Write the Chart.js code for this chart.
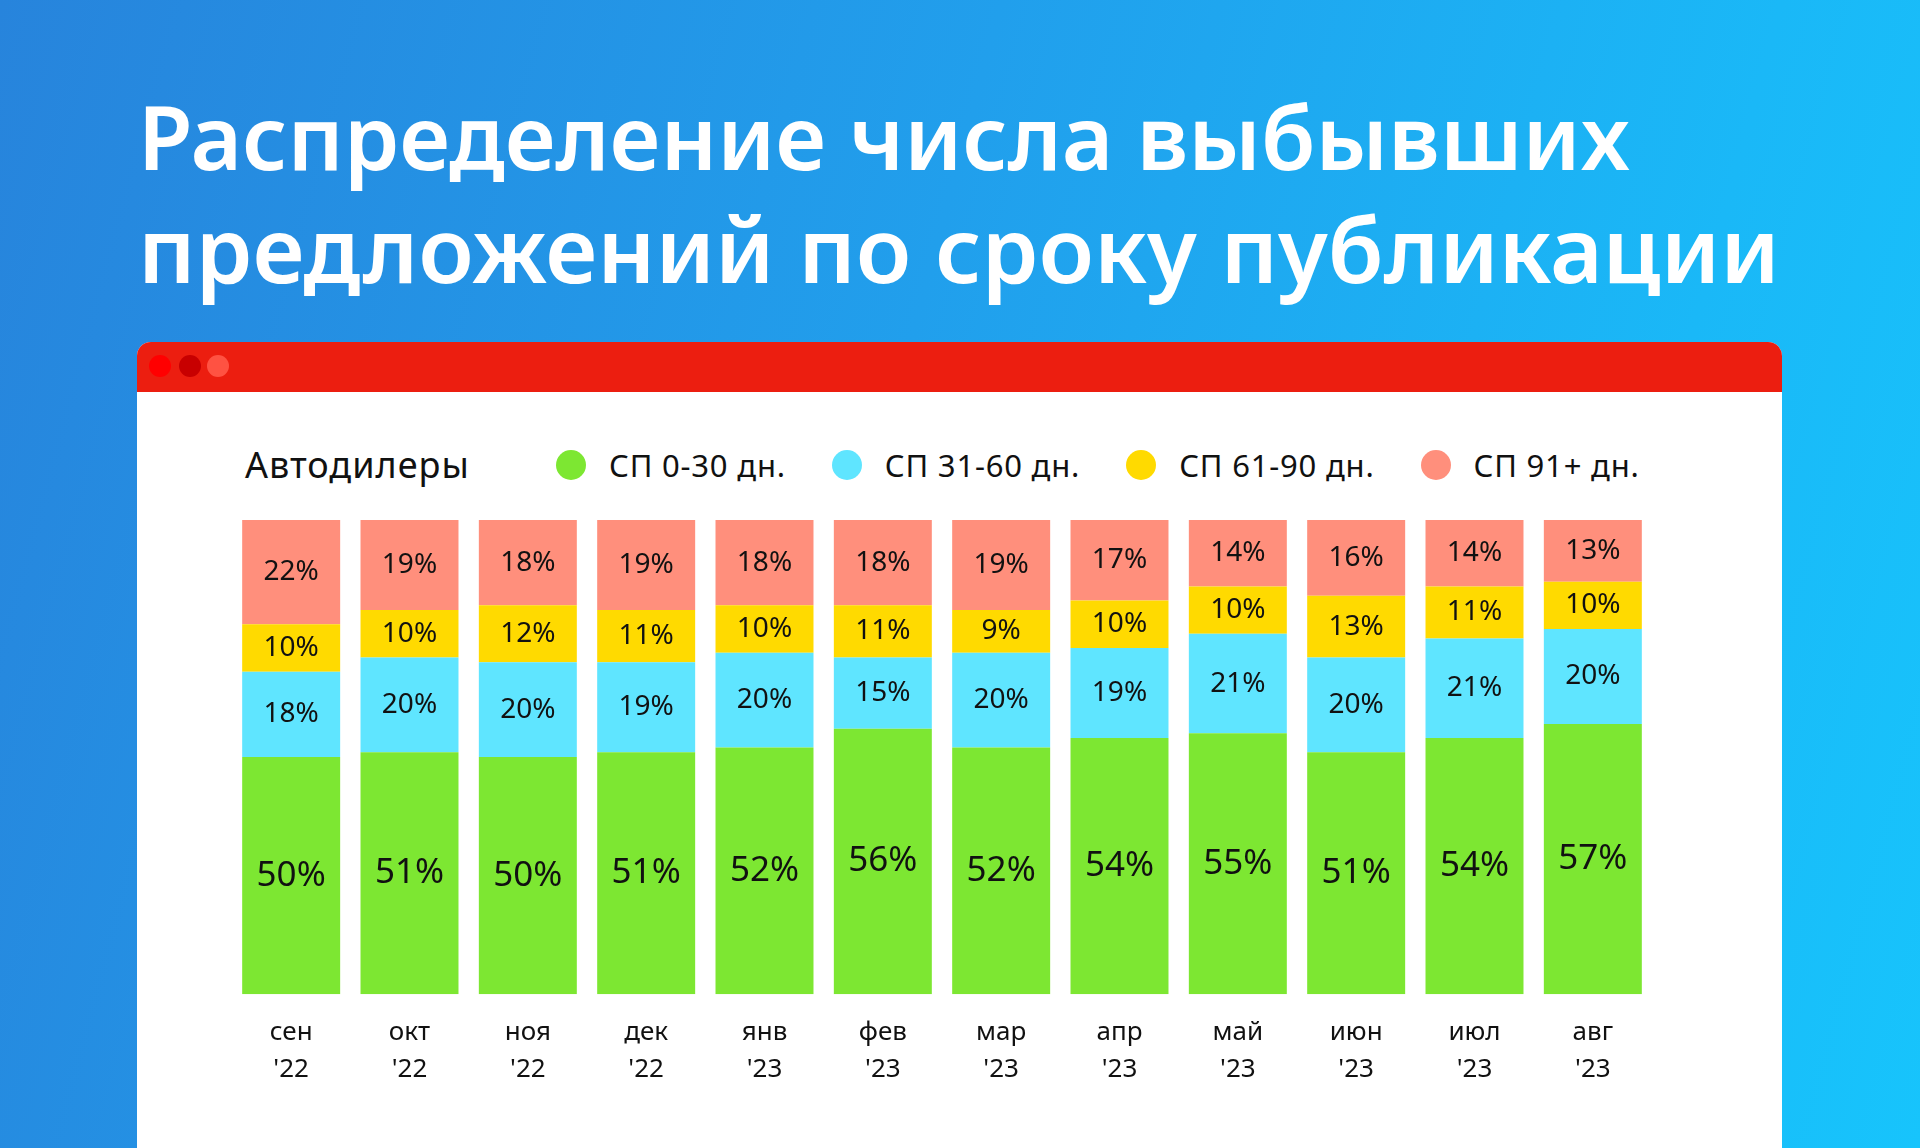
<!DOCTYPE html>
<html lang="ru">
<head>
<meta charset="utf-8">
<script src="https://cdn.jsdelivr.net/npm/chart.js@4.4.1/dist/chart.umd.min.js"></script>
<style>
  html, body { margin:0; padding:0; }
  body {
    width:1920px; height:1148px; overflow:hidden; position:relative;
    background: linear-gradient(105deg, #2784dc 0%, #219fec 45%, #1ab8f7 80%, #17c4fc 100%);
    font-family: "Noto Sans", sans-serif;
  }
  .title {
    position:absolute; left:138px; color:#fff; font-weight:600; white-space:nowrap;
    line-height:112px; letter-spacing:0;
  }
  .window {
    position:absolute; left:137px; top:342px; width:1645px; height:900px;
    background:#fff; border-radius:14px 14px 0 0; overflow:hidden;
  }
  .bar { height:50px; background:#ec1e10; position:relative; }
  .dot { position:absolute; top:13px; width:22px; height:22px; border-radius:50%; }
  #heading { position:absolute; left:245px; top:442px; font-size:36px; letter-spacing:1px; color:#111; line-height:46px; }
  #legend { position:absolute; left:556px; top:442px; display:flex; align-items:center; height:46px; }
  .li { display:flex; align-items:center; margin-right:46px; font-size:31px; letter-spacing:0.8px; color:#111; }
  .li span.sw { width:30px; height:30px; border-radius:50%; margin-right:23px; display:inline-block; }
  #wrap { position:absolute; left:232px; top:520px; }
</style>
</head>
<body>
<div class="title" id="t1" style="top:80px;">Распределение числа выбывших</div>
<div class="title" id="t2" style="top:192px;">предложений по сроку публикации</div>
<div class="window">
  <div class="bar">
    <div class="dot" style="left:12px;background:#ff0000;"></div>
    <div class="dot" style="left:42px;background:#c80000;"></div>
    <div class="dot" style="left:70px;background:#ff5242;"></div>
  </div>
</div>
<div id="heading">Автодилеры</div>
<div id="legend"></div>
<div id="wrap"><canvas id="c" width="1420" height="588"></canvas></div>
<script>
const months = ['сен','окт','ноя','дек','янв','фев','мар','апр','май','июн','июл','авг'];
const years  = ["'22","'22","'22","'22","'23","'23","'23","'23","'23","'23","'23","'23"];
const seriesNames = ['СП 0-30 дн.','СП 31-60 дн.','СП 61-90 дн.','СП 91+ дн.'];
const seriesColors = ['#7de732','#5fe5ff','#ffda00','#ff8f7c'];
const sp0_30  = [50,51,50,51,52,56,52,54,55,51,54,57];
const sp31_60 = [18,20,20,19,20,15,20,19,21,20,21,20];
const sp61_90 = [10,10,12,11,10,11, 9,10,10,13,11,10];
const sp91    = [22,19,18,19,18,18,19,17,14,16,14,13];
const seriesValues = [sp0_30, sp31_60, sp61_90, sp91];

// fit title widths
(function(){
  const cv = document.createElement('canvas').getContext('2d');
  cv.font = '600 100px "Noto Sans"';
  [['t1', 1492], ['t2', 1642]].forEach(([id, target]) => {
    const el = document.getElementById(id);
    const w = cv.measureText(el.textContent).width;
    el.style.fontSize = (100 * target / w) + 'px';
  });
})();

// legend
const lg = document.getElementById('legend');
seriesNames.forEach((n, i) => {
  const d = document.createElement('div'); d.className = 'li';
  d.innerHTML = '<span class="sw" style="background:' + seriesColors[i] + '"></span>' + n;
  lg.appendChild(d);
});

const valueLabels = {
  id: 'valueLabels',
  afterDatasetsDraw(chart) {
    const ctx = chart.ctx;
    ctx.save();
    ctx.textAlign = 'center'; ctx.textBaseline = 'middle'; ctx.fillStyle = '#111';
    chart.data.datasets.forEach((ds, di) => {
      const meta = chart.getDatasetMeta(di);
      ctx.font = (di === 0 ? '35px' : '28px') + ' "Noto Sans"';
      meta.data.forEach((el, i) => {
        const p = el.getProps(['x','y','base'], true);
        ctx.fillText(ds.data[i] + '%', p.x, (p.y + p.base) / 2);
      });
    });
    ctx.restore();
  }
};

new Chart(document.getElementById('c'), {
  type: 'bar',
  data: {
    labels: months.map((m, i) => [m, years[i]]),
    datasets: seriesNames.map((n, i) => ({
      label: n, data: seriesValues[i], backgroundColor: seriesColors[i],
      borderWidth: 0, barPercentage: 0.828, categoryPercentage: 1
    }))
  },
  options: {
    responsive: false, animation: false, devicePixelRatio: 1,
    layout: { padding: 0 },
    plugins: { legend: { display: false }, tooltip: { enabled: false } },
    scales: {
      x: {
        stacked: true,
        grid: { display: false, drawTicks: false },
        border: { display: false },
        ticks: { color: '#111', padding: 20, font: { family: 'Noto Sans', size: 26, lineHeight: 1.42 } }
      },
      y: { stacked: true, display: false, min: 0, max: 100 }
    }
  },
  plugins: [valueLabels]
});
</script>
</body>
</html>
